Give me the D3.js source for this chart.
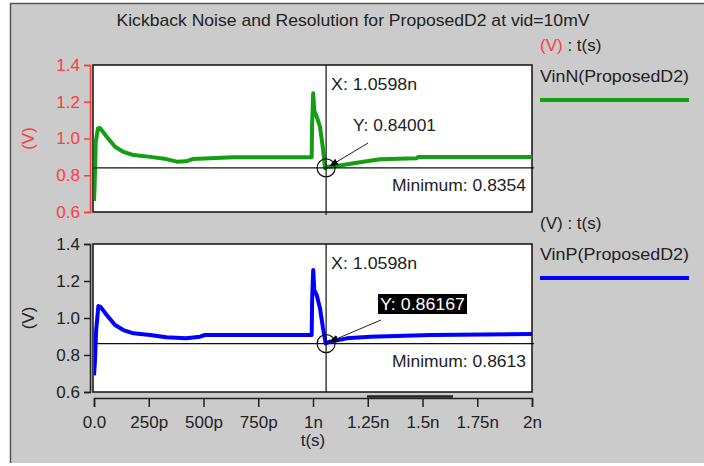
<!DOCTYPE html>
<html>
<head>
<meta charset="utf-8">
<script src="https://cdn.jsdelivr.net/npm/d3@7"></script>
<style>
  body { margin: 0; background: #fff; }
  text { font-family: "Liberation Sans", Arial, sans-serif; }
</style>
</head>
<body>
<div id="chart"></div>
<script>
"use strict";
// --- data (time in ns, voltage in V) ---
var vinNTime = [0, 0.003, 0.008, 0.018, 0.027, 0.058, 0.096, 0.133, 0.18, 0.256, 0.33, 0.378, 0.42, 0.45, 0.636, 0.994, 0.996, 1.001, 1.006, 1.017, 1.032, 1.045, 1.055, 1.062, 1.108, 1.229, 1.306, 1.473, 1.48, 2.0];
var vinNVolt = [0.66, 0.75, 0.98, 1.055, 1.057, 1.01, 0.955, 0.928, 0.91, 0.9, 0.888, 0.874, 0.876, 0.888, 0.898, 0.898, 1.083, 1.246, 1.15, 1.119, 1.064, 0.95, 0.838, 0.845, 0.85, 0.874, 0.887, 0.892, 0.9, 0.9];
var vinPTime = [0, 0.004, 0.01, 0.02, 0.03, 0.058, 0.096, 0.134, 0.18, 0.256, 0.33, 0.42, 0.484, 0.507, 0.994, 0.996, 1.001, 1.006, 1.017, 1.032, 1.045, 1.058, 1.078, 1.154, 1.26, 1.54, 2.0];
var vinPVolt = [0.69, 0.76, 0.935, 1.065, 1.06, 1.016, 0.962, 0.935, 0.917, 0.908, 0.896, 0.89, 0.899, 0.908, 0.908, 1.097, 1.259, 1.15, 1.124, 1.052, 0.95, 0.862, 0.872, 0.89, 0.899, 0.908, 0.913];
var xTicks = [0, 0.25, 0.5, 0.75, 1, 1.25, 1.5, 1.75, 2];
var xTickLabels = ["0.0", "250p", "500p", "750p", "1n", "1.25n", "1.5n", "1.75n", "2n"];
var yTicks = [0.6, 0.8, 1.0, 1.2, 1.4];
var cursorTime = 1.0598;
var cursorN = 0.84001, cursorP = 0.86167;
var minN = "0.8354", minP = "0.8613";

var W = 704, H = 466;
var plotL = 94, plotR = 532;
var svg = d3.select("#chart").append("svg").attr("width", W).attr("height", H);

// window background
svg.append("rect").attr("x", 10).attr("y", 3).attr("width", W - 10).attr("height", 460)
    .style("fill", "#cbcbcb");
svg.append("path").attr("d", "M10.5,463V3.5H704").style("fill", "none").style("stroke", "#555").style("stroke-width", 1.5);

svg.append("text").attr("x", 353).attr("y", 26).attr("text-anchor", "middle")
    .attr("textLength", 473).attr("lengthAdjust", "spacingAndGlyphs")
    .style("font-size", "17px").style("fill", "#222")
    .text("Kickback Noise and Resolution for ProposedD2 at vid=10mV");

var x = d3.scaleLinear().domain([0, 2]).range([plotL, plotR]);

var panels = [
    { top: 65, bottom: 212, time: vinNTime, volt: vinNVolt, color: "#12a012", axisColor: "#ff3b3b",
      name: "VinN(ProposedD2)", legendY: 51, cursor: cursorN, min: minN, boxed: false },
    { top: 244, bottom: 392, time: vinPTime, volt: vinPVolt, color: "#0000ff", axisColor: "#222",
      name: "VinP(ProposedD2)", legendY: 229, cursor: cursorP, min: minP, boxed: true }
];

var defs = svg.append("defs");
defs.append("marker").attr("id", "arrow").attr("viewBox", "0 0 10 10")
    .attr("refX", 9).attr("refY", 5).attr("markerWidth", 9).attr("markerHeight", 9)
    .attr("orient", "auto").append("path").attr("d", "M0,1L10,5L0,9z").style("fill", "#000");

panels.forEach(function (p, i) {
    var y = d3.scaleLinear().domain([0.6, 1.4]).range([p.bottom, p.top]);
    var g = svg.append("g");

    defs.append("clipPath").attr("id", "clip" + i).append("rect")
        .attr("x", plotL).attr("y", p.top).attr("width", plotR - plotL).attr("height", p.bottom - p.top);

    g.append("rect").attr("x", plotL - 1).attr("y", p.top).attr("width", plotR - plotL + 1)
        .attr("height", p.bottom - p.top).style("fill", "#fff").style("stroke", "#111").style("stroke-width", 1.5);

    // y axis
    var ya = g.append("g").attr("transform", "translate(90,0)")
        .call(d3.axisLeft(y).tickValues(yTicks).tickFormat(d3.format(".1f")).tickSize(6).tickPadding(4));
    ya.selectAll("path, line").style("stroke", p.axisColor).style("stroke-width", 1.5);
    ya.selectAll("text").style("font-size", "17px").style("font-family", "Liberation Sans, Arial")
        .style("fill", p.axisColor);
    g.append("text").attr("transform", "translate(34," + ((p.top + p.bottom) / 2) + ") rotate(-90)")
        .attr("text-anchor", "middle").style("font-size", "17px").style("fill", p.axisColor).text("(V)");

    // curve
    var pts = p.time.map(function (t, k) { return [t, p.volt[k]]; });
    g.append("path").datum(pts).attr("clip-path", "url(#clip" + i + ")")
        .attr("d", d3.line().x(function (d) { return x(d[0]); }).y(function (d) { return y(d[1]); }))
        .style("fill", "none").style("stroke", p.color).style("stroke-width", 4).style("stroke-linejoin", "round");

    // cursor
    var cx = x(cursorTime), cy = y(p.cursor);
    g.append("line").attr("x1", cx).attr("x2", cx).attr("y1", p.top).attr("y2", p.bottom + (i === 0 ? 3 : 0))
        .style("stroke", "#111").style("stroke-width", 1.2);
    g.append("line").attr("x1", plotL).attr("x2", plotR + 2).attr("y1", cy).attr("y2", cy)
        .style("stroke", "#111").style("stroke-width", 1.2);
    g.append("circle").attr("cx", cx).attr("cy", cy).attr("r", 9)
        .style("fill", "none").style("stroke", "#111").style("stroke-width", 1.2);
    g.append("text").attr("x", cx + 5).attr("y", p.top + 25).attr("textLength", 86)
        .attr("lengthAdjust", "spacingAndGlyphs").style("font-size", "17px").style("fill", "#222")
        .text("X: " + cursorTime + "n");

    var lx = i === 0 ? 368 : 381, ly = i === 0 ? 143 : 320;
    g.append("line").attr("x1", lx).attr("y1", ly).attr("x2", cx + 4).attr("y2", cy - 2)
        .attr("marker-end", "url(#arrow)").style("stroke", "#222").style("stroke-width", 1);
    if (p.boxed) {
        g.append("rect").attr("x", 378).attr("y", 294).attr("width", 89).attr("height", 20).style("fill", "#000");
        g.append("text").attr("x", 380).attr("y", 310).attr("textLength", 85)
            .attr("lengthAdjust", "spacingAndGlyphs").style("font-size", "17px").style("fill", "#fff")
            .text("Y: " + p.cursor);
    } else {
        g.append("text").attr("x", 353).attr("y", 131).attr("textLength", 83)
            .attr("lengthAdjust", "spacingAndGlyphs").style("font-size", "17px").style("fill", "#222")
            .text("Y: " + p.cursor);
    }
    g.append("text").attr("x", 526).attr("y", cy + 23).attr("text-anchor", "end").attr("textLength", 134)
        .attr("lengthAdjust", "spacingAndGlyphs").style("font-size", "17px").style("fill", "#222")
        .text("Minimum: " + p.min);

    // legend
    var lt = svg.append("text").attr("x", 540).attr("y", p.legendY).style("font-size", "17px").style("fill", "#222");
    lt.append("tspan").style("fill", p.axisColor).text("(V)");
    lt.append("tspan").text(" : t(s)");
    svg.append("text").attr("x", 540).attr("y", p.legendY + 31).attr("textLength", 149)
        .attr("lengthAdjust", "spacingAndGlyphs").style("font-size", "17px").style("fill", "#222").text(p.name);
    svg.append("line").attr("x1", 540).attr("x2", 689).attr("y1", p.legendY + 49).attr("y2", p.legendY + 49)
        .style("stroke", p.color).style("stroke-width", 4);
});

// x axis
var xa = svg.append("g").attr("transform", "translate(0,398)")
    .call(d3.axisBottom(x).tickValues(xTicks).tickFormat(function (d, k) { return xTickLabels[k]; })
        .tickSize(9).tickPadding(9));
xa.selectAll("path, line").style("stroke", "#222").style("stroke-width", 1.5);
xa.selectAll("text").style("font-size", "17px").style("font-family", "Liberation Sans, Arial").style("fill", "#222");
svg.append("line").attr("x1", 367).attr("x2", 453).attr("y1", 396.5).attr("y2", 396.5)
    .style("stroke", "#222").style("stroke-width", 2.5);
svg.append("text").attr("x", x(1)).attr("y", 446).attr("text-anchor", "middle")
    .style("font-size", "17px").style("fill", "#222").text("t(s)");
</script>
</body>
</html>
